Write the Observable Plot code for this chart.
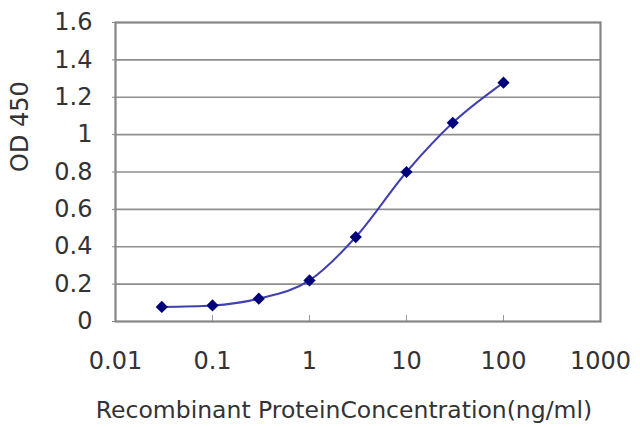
<!DOCTYPE html>
<html>
<head>
<meta charset="utf-8">
<script src="https://cdn.jsdelivr.net/npm/d3@7"></script>
<script src="https://cdn.jsdelivr.net/npm/@observablehq/plot@0.6"></script>
<style>
  html, body { margin: 0; padding: 0; background: #fff; }
</style>
</head>
<body>
<div id="chart"></div>
<script>
// Data
const conc = [0.03, 0.1, 0.3, 1, 3, 10, 30, 100];
const od = [0.078, 0.086, 0.122, 0.22, 0.452, 0.80, 1.063, 1.278];

const yTicks = [0, 0.2, 0.4, 0.6, 0.8, 1, 1.2, 1.4, 1.6];
const yTickLabels = ["0", "0.2", "0.4", "0.6", "0.8", "1", "1.2", "1.4", "1.6"];
const yGrid = [0.2, 0.4, 0.6, 0.8, 1, 1.2, 1.4];
const xTicks = [0.01, 0.1, 1, 10, 100, 1000];
const xTickLabels = ["0.01", "0.1", "1", "10", "100", "1000"];
const xInnerTicks = [0.1, 1, 10, 100];

const xLabel = "Recombinant ProteinConcentration(ng/ml)";
const yLabel = "OD 450";

const data = conc.map((c, i) => ({conc: c, od: od[i]}));

const chart = Plot.plot({
  width: 640,
  height: 427,
  marginLeft: 115,
  marginRight: 40,
  marginTop: 22,
  marginBottom: 106,
  style: {fontFamily: "DejaVu Sans", fontSize: "24px", color: "#333", background: "white"},
  x: {type: "log", domain: [0.01, 1000]},
  y: {domain: [0, 1.6]},
  marks: [
    Plot.ruleY(yGrid, {stroke: "#8f8f8f", strokeWidth: 1.6}),
    Plot.axisX(xInnerTicks, {tickSize: 6, dy: -6, tickFormat: () => "", stroke: "#999", label: null}),
    Plot.frame({stroke: "#858585", strokeWidth: 2.2}),
    Plot.axisY(yTicks, {tickSize: 3, tickPadding: 20, stroke: "#888",
      tickFormat: d => yTickLabels[yTicks.indexOf(d)], label: null}),
    Plot.axisX(xTicks, {tickSize: 0, tickPadding: 30,
      tickFormat: d => xTickLabels[xTicks.indexOf(d)], label: null}),
    Plot.text([xLabel], {text: d => d, frameAnchor: "bottom", dy: 96, dx: -14, fontSize: 23.5, fill: "#333"}),
    Plot.text([yLabel], {text: d => d, frameAnchor: "left", rotate: -90, dx: -95, fontSize: 24, fill: "#333"}),
    Plot.line(data, {x: "conc", y: "od", curve: "monotone-x", stroke: "#4040b0", strokeWidth: 2}),
    Plot.dot(data, {x: "conc", y: "od", symbol: "diamond2", r: 5.5, fill: "#00007a", stroke: "none"})
  ]
});
document.getElementById("chart").appendChild(chart);
</script>
</body>
</html>
